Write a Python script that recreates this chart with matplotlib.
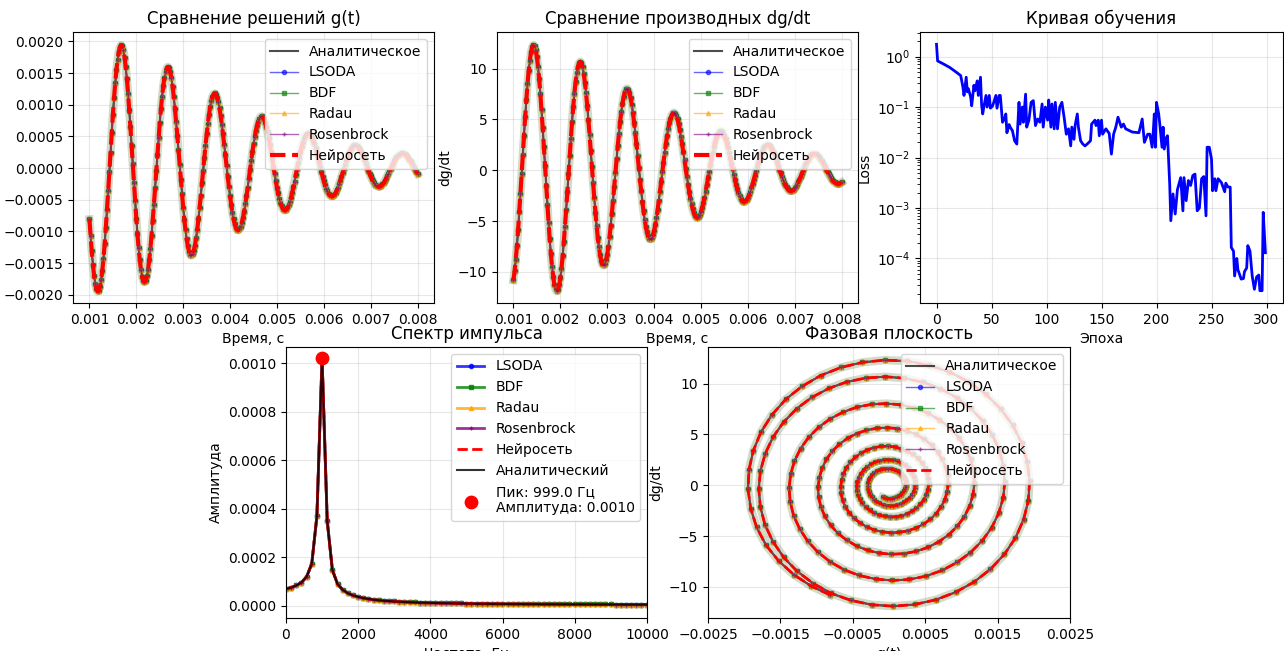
import matplotlib.pyplot as plt
import numpy as np

# time grid of the solution, s
t = np.linspace(0.001, 0.008, 281)

# g(t), in units of 1e-3
g_e3 = [
    -0.809, -1.073, -1.315, -1.525, -1.699, -1.828, -1.910, -1.947, -1.934, -1.874,
    -1.769, -1.619, -1.429, -1.201, -0.945, -0.664, -0.367, -0.061, 0.245, 0.547,
    0.835, 1.100, 1.339, 1.542, 1.708, 1.833, 1.910, 1.942, 1.924, 1.858,
    1.747, 1.592, 1.400, 1.174, 0.921, 0.646, 0.355, 0.059, -0.236, -0.524,
    -0.797, -1.045, -1.267, -1.454, -1.603, -1.713, -1.777, -1.799, -1.776, -1.709,
    -1.602, -1.456, -1.276, -1.067, -0.834, -0.583, -0.320, -0.053, 0.211, 0.469,
    0.711, 0.933, 1.130, 1.296, 1.428, 1.524, 1.581, 1.599, 1.577, 1.514,
    1.416, 1.284, 1.123, 0.938, 0.733, 0.512, 0.281, 0.046, -0.185, -0.410,
    -0.622, -0.813, -0.983, -1.124, -1.235, -1.317, -1.365, -1.379, -1.359, -1.306,
    -1.222, -1.108, -0.970, -0.809, -0.631, -0.441, -0.241, -0.040, 0.159, 0.352,
    0.533, 0.697, 0.843, 0.964, 1.060, 1.129, 1.169, 1.179, 1.161, 1.114,
    1.041, 0.943, 0.824, 0.687, 0.535, 0.373, 0.204, 0.033, -0.134, -0.296,
    -0.447, -0.584, -0.706, -0.806, -0.885, -0.941, -0.972, -0.980, -0.962, -0.924,
    -0.864, -0.784, -0.685, -0.572, -0.446, -0.311, -0.170, -0.028, 0.112, 0.248,
    0.375, 0.489, 0.589, 0.672, 0.736, 0.783, 0.810, 0.817, 0.804, 0.770,
    0.719, 0.651, 0.569, 0.474, 0.369, 0.257, 0.140, 0.023, -0.092, -0.203,
    -0.307, -0.400, -0.483, -0.551, -0.604, -0.642, -0.663, -0.667, -0.655, -0.629,
    -0.588, -0.533, -0.467, -0.389, -0.304, -0.212, -0.116, -0.019, 0.076, 0.167,
    0.251, 0.329, 0.397, 0.454, 0.499, 0.529, 0.545, 0.547, 0.536, 0.514,
    0.480, 0.434, 0.379, 0.316, 0.246, 0.171, 0.094, 0.015, -0.061, -0.135,
    -0.204, -0.267, -0.322, -0.367, -0.403, -0.428, -0.442, -0.445, -0.436, -0.418,
    -0.389, -0.351, -0.306, -0.254, -0.198, -0.137, -0.075, -0.012, 0.049, 0.110,
    0.166, 0.216, 0.260, 0.296, 0.324, 0.346, 0.358, 0.362, 0.357, 0.341,
    0.317, 0.285, 0.248, 0.207, 0.161, 0.113, 0.062, 0.010, -0.040, -0.088,
    -0.132, -0.173, -0.209, -0.239, -0.263, -0.280, -0.290, -0.292, -0.288, -0.276,
    -0.258, -0.234, -0.204, -0.169, -0.130, -0.090, -0.049, -0.008, 0.032, 0.070,
    0.107, 0.139, 0.168, 0.192, 0.210, 0.223, 0.231, 0.232, 0.228, 0.218,
    0.204, 0.184, 0.160, 0.134, 0.105, 0.073, 0.040, 0.007, -0.027, -0.059,
    -0.089,
]

# dg/dt
dg = [
    -10.80, -9.92, -8.79, -7.43, -5.88, -4.14, -2.29, -0.38, 1.53, 3.42,
    5.23, 6.91, 8.44, 9.73, 10.79, 11.59, 12.09, 12.31, 12.22, 11.82,
    11.15, 10.17, 8.95, 7.52, 5.91, 4.15, 2.29, 0.38, -1.52, -3.39,
    -5.17, -6.80, -8.26, -9.51, -10.51, -11.26, -11.72, -11.89, -11.75, -11.32,
    -10.63, -9.66, -8.47, -7.09, -5.54, -3.88, -2.13, -0.35, 1.41, 3.12,
    4.74, 6.21, 7.53, 8.64, 9.52, 10.17, 10.55, 10.68, 10.53, 10.13,
    9.50, 8.63, 7.56, 6.32, 4.94, 3.45, 1.89, 0.31, -1.25, -2.77,
    -4.19, -5.48, -6.63, -7.59, -8.37, -8.93, -9.26, -9.36, -9.22, -8.87,
    -8.30, -7.52, -6.57, -5.48, -4.27, -2.98, -1.63, -0.27, 1.08, 2.38,
    3.61, 4.73, 5.72, 6.55, 7.21, 7.69, 7.96, 8.04, 7.92, 7.60,
    7.11, 6.44, 5.63, 4.70, 3.66, 2.56, 1.40, 0.23, -0.92, -2.03,
    -3.08, -4.03, -4.86, -5.56, -6.11, -6.50, -6.72, -6.78, -6.67, -6.39,
    -5.97, -5.40, -4.72, -3.93, -3.06, -2.13, -1.16, -0.19, 0.76, 1.69,
    2.56, 3.35, 4.05, 4.63, 5.09, 5.42, 5.61, 5.67, 5.58, 5.35,
    5.00, 4.52, 3.94, 3.27, 2.54, 1.77, 0.97, 0.16, -0.64, -1.41,
    -2.13, -2.78, -3.36, -3.83, -4.21, -4.48, -4.63, -4.66, -4.58, -4.39,
    -4.09, -3.70, -3.23, -2.69, -2.09, -1.45, -0.79, -0.13, 0.52, 1.15,
    1.74, 2.28, 2.75, 3.15, 3.47, 3.70, 3.82, 3.85, 3.77, 3.60,
    3.35, 3.04, 2.66, 2.21, 1.73, 1.20, 0.65, 0.11, -0.42, -0.94,
    -1.42, -1.85, -2.24, -2.56, -2.81, -2.99, -3.09, -3.11, -3.05, -2.93,
    -2.73, -2.47, -2.15, -1.79, -1.39, -0.97, -0.53, -0.09, 0.35, 0.76,
    1.15, 1.50, 1.81, 2.06, 2.26, 2.39, 2.47, 2.50, 2.46, 2.37,
    2.22, 2.00, 1.74, 1.44, 1.12, 0.78, 0.43, 0.07, -0.28, -0.62,
    -0.94, -1.22, -1.46, -1.68, -1.84, -1.97, -2.04, -2.04, -1.99, -1.90,
    -1.76, -1.60, -1.40, -1.17, -0.91, -0.63, -0.35, -0.06, 0.23, 0.50,
    0.76, 1.00, 1.20, 1.37, 1.49, 1.57, 1.60, 1.62, 1.59, 1.52,
    1.42, 1.29, 1.12, 0.93, 0.73, 0.51, 0.28, 0.05, -0.18, -0.40,
    -0.60, -0.79, -0.95, -1.09, -1.20, -1.28, -1.33, -1.34, -1.32, -1.27,
    -1.19,
]

# training curve
epochs = [
    0, 1, 6, 12, 18, 22, 24, 25, 27, 28, 29, 31, 32, 34, 35, 37, 38, 40, 41, 42,
    43, 45, 46, 48, 49, 51, 54, 55, 57, 58, 60, 62, 63, 64, 66,
    67, 69, 71, 73, 75, 76, 78, 79, 81, 82, 84, 86, 88, 90, 92, 94, 96, 97, 99,
    101, 102, 104, 105, 107, 108, 110, 112, 114, 116, 118, 120, 122, 123, 125,
    126, 128, 129, 131, 133, 135, 137, 140, 141, 144, 145, 147, 148, 150,
    151, 154, 157, 159, 161, 163, 165, 168, 170, 172, 178, 184, 187, 189, 192,
    194, 196, 197, 198, 199, 200, 202, 203, 205, 206, 207, 209, 210, 212, 213,
    215, 217, 219, 222, 224, 225,
    227, 229, 231, 233, 235, 237, 239, 241, 243, 245, 246, 248, 250, 251, 253,
    254, 256, 259, 262, 263, 265, 267, 268, 270, 271, 273, 274, 277, 279, 280,
    282, 283, 285, 287, 289, 291, 293, 294, 296, 297, 299,
]
loss = [
    1.75, 0.82, 0.72, 0.61, 0.49, 0.42, 0.25, 0.17, 0.39, 0.2, 0.23, 0.16, 0.106,
    0.27, 0.21, 0.33, 0.17, 0.39, 0.11, 0.073, 0.1, 0.17, 0.1, 0.17, 0.095, 0.105,
    0.17, 0.095, 0.17, 0.17, 0.05, 0.06, 0.073, 0.031, 0.045,
    0.04, 0.034, 0.0215, 0.0185, 0.124, 0.046, 0.1, 0.05, 0.18, 0.04, 0.055, 0.124,
    0.134, 0.043, 0.058, 0.05, 0.115, 0.04, 0.1,
    0.055, 0.138, 0.04, 0.115, 0.037, 0.124, 0.037, 0.1, 0.124, 0.063, 0.029,
    0.037, 0.017, 0.04, 0.023,
    0.043, 0.073, 0.04, 0.0215, 0.0185, 0.017, 0.0185, 0.0215, 0.046, 0.055, 0.043,
    0.055, 0.027, 0.055,
    0.029, 0.037, 0.03, 0.0117, 0.029, 0.04, 0.063, 0.04, 0.046, 0.037, 0.032,
    0.031, 0.058, 0.02, 0.029,
    0.029, 0.016, 0.031, 0.073, 0.016, 0.124, 0.073, 0.046, 0.016, 0.04, 0.0147,
    0.025, 0.027, 0.003, 0.00056,
    0.0019, 0.00076, 0.0023, 0.004, 0.00088, 0.004,
    0.0014, 0.0035, 0.0028, 0.0044, 0.0047, 0.00088, 0.001, 0.0038, 0.0042, 0.0007,
    0.016, 0.016, 0.0093, 0.0022, 0.0038,
    0.0022, 0.0038, 0.0032, 0.0021, 0.0031, 0.0026, 0.0026, 0.000165, 0.00014,
    0.000045, 0.0001, 0.00006, 0.000039, 0.00004, 0.000055,
    0.000065, 0.00018, 0.00014, 0.000045, 0.0000245, 0.000043, 0.000047, 0.000023,
    0.000023, 0.00082, 0.00013,
]

# pulse spectrum, amplitude in units of 1e-5, bins of 999.0/7 Hz
spec_e5 = [
    7.0, 7.5, 8.4, 9.6, 12.0, 17.3, 37.0, 102.0, 35.0, 14.8,
    9.0, 6.6, 5.2, 4.3, 3.7, 3.2, 2.85, 2.55, 2.3, 2.1,
    1.95, 1.8, 1.7, 1.6, 1.5, 1.42, 1.35, 1.29, 1.23, 1.18,
    1.13, 1.09, 1.05, 1.01, 0.98, 0.95, 0.92, 0.89, 0.87, 0.85,
    0.83, 0.81, 0.79, 0.77, 0.75, 0.74, 0.72, 0.71, 0.70, 0.68,
    0.67, 0.66, 0.65, 0.64, 0.63, 0.62, 0.61, 0.60, 0.60, 0.59,
    0.58, 0.57, 0.57, 0.56, 0.55, 0.55, 0.54, 0.54, 0.53, 0.53,
    0.52, 0.52,
]
peak_freq = 999.0
peak_amp = 0.00102

g = np.array(g_e3) * 1e-3
dg = np.array(dg)
spec = np.array(spec_e5) * 1e-5
freq = np.arange(len(spec)) * (peak_freq / 7)

methods = [
    ("LSODA", "blue", "o"),
    ("BDF", "green", "s"),
    ("Radau", "orange", "^"),
    ("Rosenbrock", "purple", "+"),
]

W, H = 1284, 651
fig = plt.figure(figsize=(W / 100, H / 100), dpi=100)


def box(left, top, width=361, height=271):
    return [left / W, (H - top - height) / H, width / W, height / H]


ax1 = fig.add_axes(box(73, 32))
ax2 = fig.add_axes(box(497, 32))
ax3 = fig.add_axes(box(920, 32, width=363))
ax4 = fig.add_axes(box(286, 347))
ax5 = fig.add_axes(box(708, 347, width=362))


def draw_solutions(ax, x, y, nn_lw=3):
    ax.plot(x, y, color="#7d9a5a", lw=6, alpha=0.35, zorder=1)
    ax.plot(x, y, "k-", lw=1.5, alpha=0.7, label="Аналитическое")
    for name, c, m in methods:
        ax.plot(x, y, color=c, marker=m, markersize=3, lw=1, alpha=0.6, label=name)
    ax.plot(x, y, "r--", lw=nn_lw, label="Нейросеть")
    ax.legend(loc="upper right")
    ax.grid(True, alpha=0.3)


# g(t)
draw_solutions(ax1, t, g)
ax1.set_title("Сравнение решений g(t)")
ax1.set_xlabel("Время, с")
ax1.set_ylim(-0.00213, 0.00215)

# dg/dt
draw_solutions(ax2, t, dg)
ax2.set_title("Сравнение производных dg/dt")
ax2.set_xlabel("Время, с")
ax2.set_ylabel("dg/dt")
ax2.set_ylim(-13.05, 13.6)

# loss
ax3.semilogy(epochs, loss, "b-", lw=2)
ax3.set_title("Кривая обучения")
ax3.set_xlabel("Эпоха")
ax3.set_ylabel("Loss")
ax3.set_xlim(-15, 315)
ax3.grid(True, alpha=0.3)

# spectrum
for name, c, m in methods:
    ax4.plot(freq, spec, color=c, marker=m, markersize=3, lw=2, alpha=0.8, label=name)
ax4.plot(freq, spec, "r--", lw=2, label="Нейросеть")
ax4.plot(freq, spec, "k-", lw=1.5, alpha=0.8, label="Аналитический")
ax4.scatter([peak_freq], [peak_amp], color="red", s=80, zorder=5,
            label=f"Пик: {peak_freq:.1f} Гц\nАмплитуда: {peak_amp:.4f}")
ax4.set_title("Спектр импульса")
ax4.set_xlabel("Частота, Гц")
ax4.set_ylabel("Амплитуда")
ax4.set_xlim(0, 10000)
ax4.set_ylim(-0.00005, 0.001066)
ax4.legend(loc="upper right")
ax4.grid(True, alpha=0.3)

# phase plane
draw_solutions(ax5, g, dg, nn_lw=2)
ax5.set_title("Фазовая плоскость")
ax5.set_xlabel("g(t)")
ax5.set_ylabel("dg/dt")
ax5.set_xlim(-0.0025, 0.0025)
ax5.set_xticks([-0.0025, -0.0015, -0.0005, 0.0005, 0.0015, 0.0025])
ax5.set_ylim(-13.05, 13.6)

fig.savefig("out.png", dpi=100)
